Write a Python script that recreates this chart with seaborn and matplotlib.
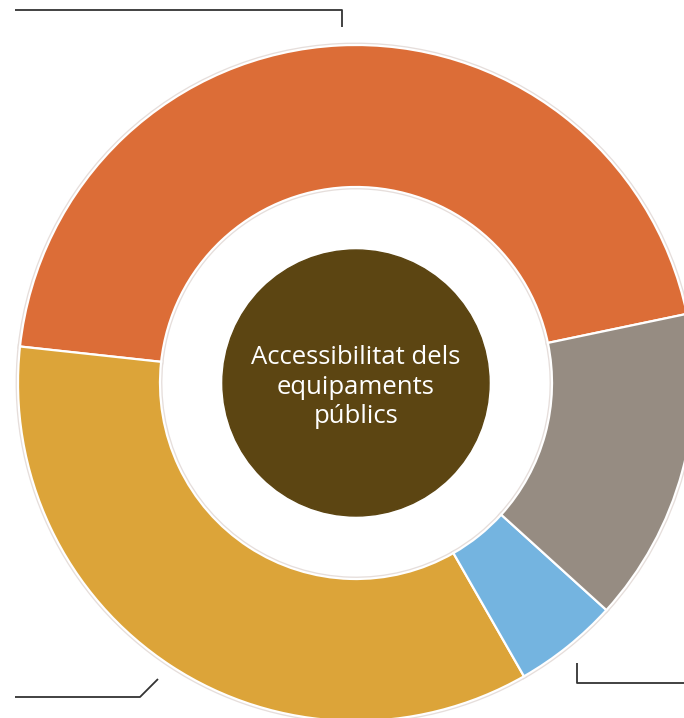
import numpy as np
import matplotlib.pyplot as plt
import seaborn as sns

# Segment shares, counterclockwise from the right
categories = ["A", "B", "C", "D"]
shares = [45, 35, 5, 15]
colors = sns.color_palette(["#dc6d37", "#dca439", "#74b4e0", "#968c82"])
center_label = "Accessibilitat dels\nequipaments\npúblics"

sns.set_style("white")
plt.rcParams['font.family'] = ['Open Sans', 'DejaVu Sans']

W, H = 684, 718
fig = plt.figure(figsize=(W / 100, H / 100), dpi=100)
ax = fig.add_axes([0, 0, 1, 1])

cx, cy = 356, H - 383
r_out, ring = 338, 142

# light outline underneath, white separator on top
ax.pie(shares, colors=colors, startangle=11.8, counterclock=True,
       center=(cx, cy), radius=r_out, frame=True,
       wedgeprops=dict(width=ring, edgecolor="#e6dedb", linewidth=3.5))
ax.pie(shares, colors=colors, startangle=11.8, counterclock=True,
       center=(cx, cy), radius=r_out, frame=True,
       wedgeprops=dict(width=ring, edgecolor="white", linewidth=1.6))
ax.set_xlim(0, W)
ax.set_ylim(0, H)
ax.set_aspect('equal')
ax.axis('off')

ax.add_patch(plt.Circle((cx, cy), 133, color="#5c4512", zorder=5))
ax.text(cx, cy - 4, center_label, ha='center', va='center', color='white',
        fontsize=18.5, linespacing=1.22, zorder=6)

# callout leader lines (labels are outside the crop)
lc = dict(color="#333333", lw=1.3, solid_capstyle='butt')
ax.plot([15, 342, 342], [H - 10, H - 10, H - 27], **lc)
ax.plot([15, 140, 158], [H - 697, H - 697, H - 679], **lc)
ax.plot([577, 577, 684], [H - 663, H - 683, H - 683], **lc)

fig.savefig("out.png", dpi=100)
